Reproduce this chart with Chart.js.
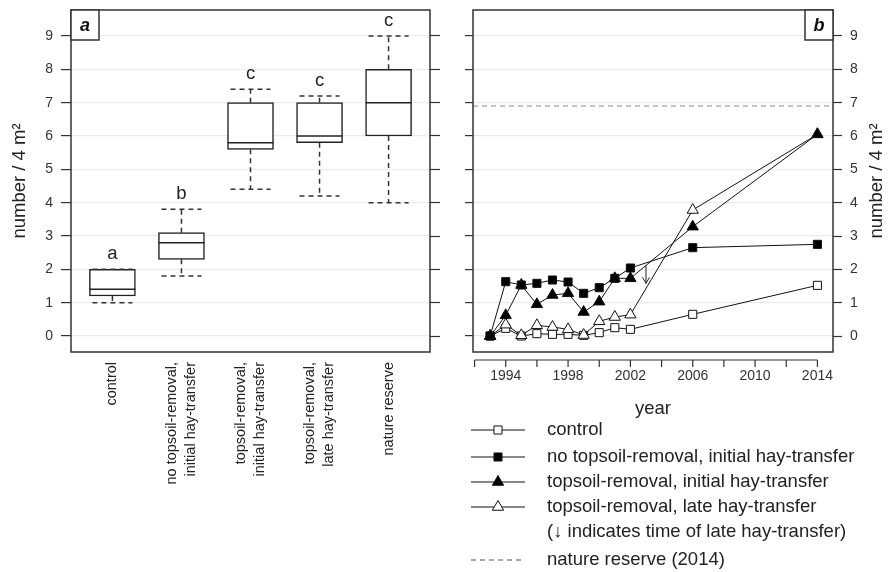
<!DOCTYPE html>
<html>
<head>
<meta charset="utf-8">
<script src="https://cdn.jsdelivr.net/npm/chart.js@4/dist/chart.umd.min.js"></script>
<style>
html, body { margin: 0; padding: 0; background: #fff; }
#wrap { position: relative; width: 896px; height: 572px; }
#boxWrap { position: absolute; left: 0; top: 0; width: 450px; height: 572px; }
#lineWrap { position: absolute; left: 450px; top: 0; width: 446px; height: 572px; }
</style>
</head>
<body>
<div id="wrap">
  <div id="boxWrap"><canvas id="boxChart" width="450" height="572"></canvas></div>
  <div id="lineWrap"><canvas id="lineChart" width="446" height="572"></canvas></div>
</div>
<script>
// panel a: boxplots
const groupLabels = [
    ["control"],
    ["no topsoil-removal,", "initial hay-transfer"],
    ["topsoil-removal,", "initial hay-transfer"],
    ["topsoil-removal,", "late hay-transfer"],
    ["nature reserve"]
];
const boxMin = [1.0, 1.8, 4.4, 4.2, 4.0];
const boxQ1 = [1.2, 2.3, 5.6, 5.8, 6.0];
const boxMedian = [1.4, 2.8, 5.8, 6.0, 7.0];
const boxQ3 = [2.0, 3.1, 7.0, 7.0, 8.0];
const boxMax = [2.0, 3.8, 7.4, 7.2, 9.0];
const sigLetters = ["a", "b", "c", "c", "c"];
const yTicks = [0, 1, 2, 3, 4, 5, 6, 7, 8, 9];

// panel b: time series
const years = [1993, 1994, 1995, 1996, 1997, 1998, 1999, 2000, 2001, 2002, 2006, 2014];
const controlVals = [0, 0.23, 0.0, 0.07, 0.05, 0.05, 0.02, 0.1, 0.25, 0.2, 0.65, 1.52];
const noTopsoilInitial = [0, 1.63, 1.53, 1.58, 1.68, 1.62, 1.28, 1.45, 1.73, 2.04, 2.65, 2.75];
const topsoilInitial = [0, 0.62, 1.53, 0.95, 1.23, 1.28, 0.72, 1.03, 1.73, 1.73, 3.28, 6.05];
const topsoilLate = [0, 0.34, 0.02, 0.32, 0.27, 0.2, 0.03, 0.44, 0.57, 0.64, 3.78, 6.05];
const natureReserve2014 = 6.9;
const lateTransferYear = 2003;
const lateTransferArrow = [2.12, 1.58];
const yearTicks = [1992, 1994, 1996, 1998, 2000, 2002, 2004, 2006, 2008, 2010, 2012, 2014];
const yearLabels = [1994, 1998, 2002, 2006, 2010, 2014];

const FONT = "'Liberation Sans', Arial, Helvetica, sans-serif";
Chart.defaults.font.family = FONT;
Chart.defaults.color = '#333';

const Y_MIN = -0.48, Y_MAX = 9.78;
const setYTicks = s => { s.ticks = yTicks.map(v => ({ value: v })); };
// fixed axis size, no extra label overhang padding
const fixSize = (w, h) => s => {
    if (w !== null) s.width = w;
    if (h !== null) s.height = h;
    s.paddingTop = 0; s.paddingBottom = 0; s.paddingLeft = 0; s.paddingRight = 0;
};

// frame round the plot area plus the panel tag (a / b)
const framePlugin = {
    id: 'frame',
    afterDatasetsDraw(chart, args, opts) {
        const { ctx, chartArea: a } = chart;
        ctx.save();
        ctx.strokeStyle = '#333';
        ctx.lineWidth = 1.5;
        ctx.strokeRect(a.left, a.top, a.right - a.left, a.bottom - a.top);
        const w = 28, h = 30;
        const x = opts.corner === 'right' ? a.right - w : a.left;
        ctx.fillStyle = '#fff';
        ctx.fillRect(x, a.top, w, h);
        ctx.strokeRect(x, a.top, w, h);
        ctx.fillStyle = '#111';
        ctx.font = 'italic bold 18px ' + FONT;
        ctx.textAlign = 'center';
        ctx.textBaseline = 'middle';
        ctx.fillText(opts.tag, x + w / 2, a.top + h / 2 + 1);
        ctx.restore();
    }
};

// letters above the boxes and the rotated group names
const boxTextPlugin = {
    id: 'boxText',
    afterDraw(chart) {
        const { ctx, scales } = chart;
        ctx.save();
        ctx.fillStyle = '#222';
        ctx.font = '18.5px ' + FONT;
        ctx.textAlign = 'center';
        ctx.textBaseline = 'middle';
        sigLetters.forEach((l, i) => {
            ctx.fillText(l, scales.x.getPixelForValue(i + 1), scales.y.getPixelForValue(boxMax[i] + 0.45));
        });
        ctx.font = '14.5px ' + FONT;
        ctx.textAlign = 'right';
        groupLabels.forEach((lines, i) => {
            const px = scales.x.getPixelForValue(i + 1);
            lines.forEach((t, k) => {
                ctx.save();
                ctx.translate(px + (k - (lines.length - 1) / 2) * 19, chart.chartArea.bottom + 10);
                ctx.rotate(-Math.PI / 2);
                ctx.fillText(t, 0, 0);
                ctx.restore();
            });
        });
        ctx.restore();
    }
};

// whisker segments (dashed) built from the box arrays
const capHalf = 0.29;
const whiskerPts = [];
boxMin.forEach((mn, i) => {
    const x = i + 1;
    whiskerPts.push({ x: x, y: boxQ3[i] }, { x: x, y: boxMax[i] }, { x: x, y: null });
    whiskerPts.push({ x: x, y: boxQ1[i] }, { x: x, y: mn }, { x: x, y: null });
    whiskerPts.push({ x: x - capHalf, y: boxMax[i] }, { x: x + capHalf, y: boxMax[i] }, { x: x, y: null });
    whiskerPts.push({ x: x - capHalf, y: mn }, { x: x + capHalf, y: mn }, { x: x, y: null });
});

new Chart(document.getElementById('boxChart'), {
    type: 'line',
    data: {
        datasets: [
            {
                type: 'scatter',
                data: boxMedian.map((m, i) => ({ x: i + 1, y: m })),
                pointStyle: 'line',
                pointRadius: 23,
                pointBorderWidth: 1.5,
                pointBorderColor: '#222',
                showLine: false
            },
            {
                type: 'line',
                data: whiskerPts,
                borderColor: '#333',
                borderWidth: 1.5,
                borderDash: [5, 4],
                pointRadius: 0,
                spanGaps: false,
                tension: 0
            },
            {
                type: 'bar',
                data: boxQ1.map((q, i) => ({ x: i + 1, y: [q, boxQ3[i]] })),
                backgroundColor: '#fff',
                borderColor: '#222',
                borderWidth: 1.5,
                borderSkipped: false,
                barThickness: 46
            }
        ]
    },
    options: {
        responsive: false,
        animation: false,
        events: [],
        layout: { autoPadding: false, padding: { top: 10, bottom: 0, left: 0, right: 0 } },
        scales: {
            x: {
                type: 'linear', min: 0.4, max: 5.6, offset: false,
                grid: { display: false, drawTicks: false, offset: false },
                border: { display: false },
                ticks: { display: false },
                afterFit: fixSize(null, 220)
            },
            y: {
                type: 'linear', position: 'left', min: Y_MIN, max: Y_MAX,
                afterBuildTicks: setYTicks,
                grid: { color: '#ebebeb', lineWidth: 1.2, tickColor: '#333', tickLength: 10, tickWidth: 1.2 },
                border: { display: false },
                ticks: { font: { size: 14 }, color: '#333', padding: 8 },
                title: { display: true, text: 'number / 4 m²', font: { size: 18.5 }, color: '#222', padding: { top: 9, bottom: 0 } },
                afterFit: fixSize(71, null)
            },
            yRight: {
                type: 'linear', position: 'right', min: Y_MIN, max: Y_MAX,
                afterBuildTicks: setYTicks,
                grid: { drawOnChartArea: false, tickColor: '#333', tickLength: 10, tickWidth: 1.2 },
                border: { display: false },
                ticks: { display: false },
                afterFit: fixSize(20, null)
            }
        },
        plugins: {
            legend: { display: false },
            tooltip: { enabled: false },
            frame: { tag: 'a', corner: 'left' }
        }
    },
    plugins: [framePlugin, boxTextPlugin]
});

// panel b
const X_MIN = 1991.9, X_MAX = 2015.0;
const series = [
    { label: 'control', values: controlVals, style: 'rect', radius: 5.7, fill: '#fff', order: 3 },
    { label: 'no topsoil-removal, initial hay-transfer', values: noTopsoilInitial, style: 'rect', radius: 5.7, fill: '#000', order: 0 },
    { label: 'topsoil-removal, initial hay-transfer', values: topsoilInitial, style: 'triangle', radius: 6.5, fill: '#000', order: 1 },
    { label: 'topsoil-removal, late hay-transfer', values: topsoilLate, style: 'triangle', radius: 6.5, fill: '#fff', order: 2 }
];

const lineDatasets = series.map(s => ({
    label: s.label,
    data: years.map((y, i) => ({ x: y, y: s.values[i] })),
    borderColor: '#111',
    borderWidth: 1,
    pointStyle: s.style,
    pointRadius: s.radius,
    pointBackgroundColor: s.fill,
    pointBorderColor: '#111',
    pointBorderWidth: 1,
    tension: 0,
    order: s.order
}));
lineDatasets.push({
    label: 'nature reserve (2014)',
    data: [{ x: X_MIN, y: natureReserve2014 }, { x: X_MAX, y: natureReserve2014 }],
    borderColor: '#888',
    borderWidth: 1.2,
    borderDash: [5, 4],
    pointRadius: 0,
    order: 5
});

const linePanelPlugin = {
    id: 'linePanel',
    afterDraw(chart) {
        const { ctx, scales, chartArea: a } = chart;
        const xs = scales.x, ys = scales.y;
        ctx.save();
        // detached x axis
        const axY = a.bottom + 8;
        ctx.strokeStyle = '#333';
        ctx.lineWidth = 1.2;
        ctx.beginPath();
        ctx.moveTo(xs.getPixelForValue(yearTicks[0]), axY);
        ctx.lineTo(xs.getPixelForValue(yearTicks[yearTicks.length - 1]), axY);
        yearTicks.forEach(t => {
            const px = xs.getPixelForValue(t);
            ctx.moveTo(px, axY);
            ctx.lineTo(px, axY + 7);
        });
        ctx.stroke();

        // arrow for the late hay-transfer
        const ax = xs.getPixelForValue(lateTransferYear);
        const y0 = ys.getPixelForValue(lateTransferArrow[0]);
        const y1 = ys.getPixelForValue(lateTransferArrow[1]);
        ctx.strokeStyle = '#222';
        ctx.lineWidth = 1;
        ctx.beginPath();
        ctx.moveTo(ax, y0);
        ctx.lineTo(ax, y1);
        ctx.moveTo(ax - 3.5, y1 - 6);
        ctx.lineTo(ax, y1);
        ctx.lineTo(ax + 3.5, y1 - 6);
        ctx.stroke();

        // right axis title, reading upward
        ctx.fillStyle = '#222';
        ctx.font = '18.5px ' + FONT;
        ctx.textAlign = 'center';
        ctx.textBaseline = 'middle';
        ctx.save();
        ctx.translate(a.right + 44, (a.top + a.bottom) / 2);
        ctx.rotate(-Math.PI / 2);
        ctx.fillText('number / 4 m²', 0, 0);
        ctx.restore();

        // legend
        const lx0 = 21, lx1 = 75, lm = 48, lt = 97;
        const rowY = [430, 457, 482, 507];
        ctx.textAlign = 'left';
        series.forEach((s, i) => {
            const y = rowY[i];
            ctx.strokeStyle = '#111';
            ctx.lineWidth = 1;
            ctx.beginPath();
            ctx.moveTo(lx0, y);
            ctx.lineTo(lx1, y);
            ctx.stroke();
            ctx.fillStyle = s.fill;
            Chart.helpers.drawPoint(ctx, { pointStyle: s.style, radius: s.radius, borderWidth: 1, rotation: 0 }, lm, y);
            ctx.fillStyle = '#222';
            ctx.fillText(s.label, lt, y);
        });
        ctx.fillText('(\u2193 indicates time of late hay-transfer)', lt, 532);
        ctx.strokeStyle = '#555';
        ctx.lineWidth = 1.2;
        ctx.setLineDash([5, 4]);
        ctx.beginPath();
        ctx.moveTo(lx0, 560);
        ctx.lineTo(lx1, 560);
        ctx.stroke();
        ctx.setLineDash([]);
        ctx.fillText('nature reserve (2014)', lt, 560);
        ctx.restore();
    }
};

new Chart(document.getElementById('lineChart'), {
    type: 'line',
    data: { datasets: lineDatasets },
    options: {
        responsive: false,
        animation: false,
        events: [],
        layout: { autoPadding: false, padding: { top: 10, bottom: 152, left: 0, right: 0 } },
        scales: {
            x: {
                type: 'linear', min: X_MIN, max: X_MAX,
                afterBuildTicks: s => { s.ticks = yearTicks.map(v => ({ value: v })); },
                grid: { display: false, drawTicks: false },
                border: { display: false },
                ticks: {
                    autoSkip: false, maxRotation: 0, padding: 16,
                    font: { size: 14 }, color: '#333',
                    callback: v => yearLabels.includes(v) ? String(v) : ''
                },
                title: { display: true, text: 'year', font: { size: 18.5 }, color: '#222', padding: { top: 0, bottom: 0 } },
                afterFit: fixSize(null, 68)
            },
            yl: {
                type: 'linear', position: 'left', min: Y_MIN, max: Y_MAX,
                afterBuildTicks: setYTicks,
                grid: { color: '#ebebeb', lineWidth: 1.2, tickColor: '#333', tickLength: 8, tickWidth: 1.2 },
                border: { display: false },
                ticks: { display: false },
                afterFit: fixSize(23, null)
            },
            y: {
                type: 'linear', position: 'right', min: Y_MIN, max: Y_MAX,
                afterBuildTicks: setYTicks,
                grid: { drawOnChartArea: false, tickColor: '#333', tickLength: 9, tickWidth: 1.2 },
                border: { display: false },
                ticks: { font: { size: 14 }, color: '#333', padding: 8 },
                afterFit: fixSize(63, null)
            }
        },
        plugins: {
            legend: { display: false },
            tooltip: { enabled: false },
            frame: { tag: 'b', corner: 'right' }
        }
    },
    plugins: [framePlugin, linePanelPlugin]
});
</script>
</body>
</html>
